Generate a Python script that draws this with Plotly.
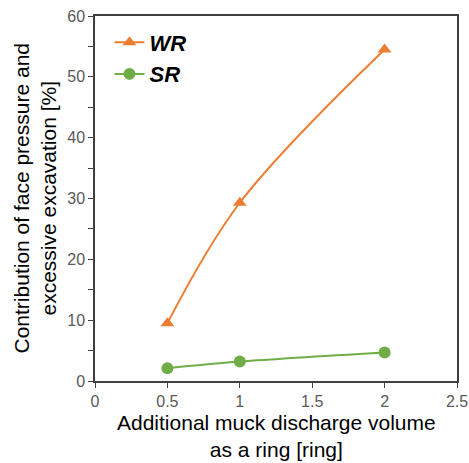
import plotly.graph_objects as go

x_vals = [0.5, 1, 2]
wr_vals = [9.5, 29.3, 54.5]
sr_vals = [2.1, 3.2, 4.7]
x_title = "Additional muck discharge volume<br>as a ring [ring]"
y_title = "Contribution of face pressure and<br>excessive excavation [%]"

FONT = "Liberation Sans, Arial, sans-serif"
fig = go.Figure()
fig.add_trace(go.Scatter(x=x_vals, y=wr_vals, name="<b><i>WR</i></b>", mode="lines+markers",
                         line=dict(color="#ED7D31", width=2, shape="spline", smoothing=1),
                         marker=dict(symbol="triangle-up", size=12, color="#ED7D31")))
fig.add_trace(go.Scatter(x=x_vals, y=sr_vals, name="<b><i>SR</i></b>", mode="lines+markers",
                         line=dict(color="#70AD47", width=2, shape="spline", smoothing=1),
                         marker=dict(symbol="circle", size=12, color="#70AD47")))

fig.update_layout(
    width=469, height=463,
    margin=dict(l=95, r=12, t=16, b=82),
    paper_bgcolor="white", plot_bgcolor="white",
    font=dict(family=FONT, color="#000"),
    showlegend=True,
    legend=dict(x=0.04, y=0.985, xanchor="left", yanchor="top", bgcolor="rgba(0,0,0,0)",
                font=dict(size=22, color="#000"), itemwidth=30, tracegroupgap=4),
    xaxis=dict(range=[0, 2.5], dtick=0.5, showgrid=False, zeroline=False, automargin=False,
               showline=True, linecolor="#404040", linewidth=1.5, mirror=True,
               ticks="outside", ticklen=5, tickcolor="#404040",
               tickfont=dict(size=16, color="#595959")),
    yaxis=dict(range=[0, 60], dtick=10, showgrid=False, zeroline=False, automargin=False,
               showline=True, linecolor="#404040", linewidth=1.5, mirror=True,
               ticks="outside", ticklen=5, tickcolor="#404040",
               tickfont=dict(size=16, color="#595959"),
               minor=dict(dtick=5, ticks="outside", ticklen=5, tickcolor="#404040")),
    annotations=[
        dict(text=x_title, xref="paper", yref="paper", x=0.5, y=0, xanchor="center",
             yanchor="middle", yshift=-55, showarrow=False, font=dict(size=21, color="#000")),
        dict(text=y_title, xref="paper", yref="paper", x=0, y=0.5, xanchor="center",
             yanchor="middle", xshift=-61, textangle=-90, showarrow=False,
             font=dict(size=21, color="#000")),
    ],
)
fig.write_html("out.html", config={"displayModeBar": False},
               post_script="document.body.style.margin='0';document.body.style.overflow='hidden';")
